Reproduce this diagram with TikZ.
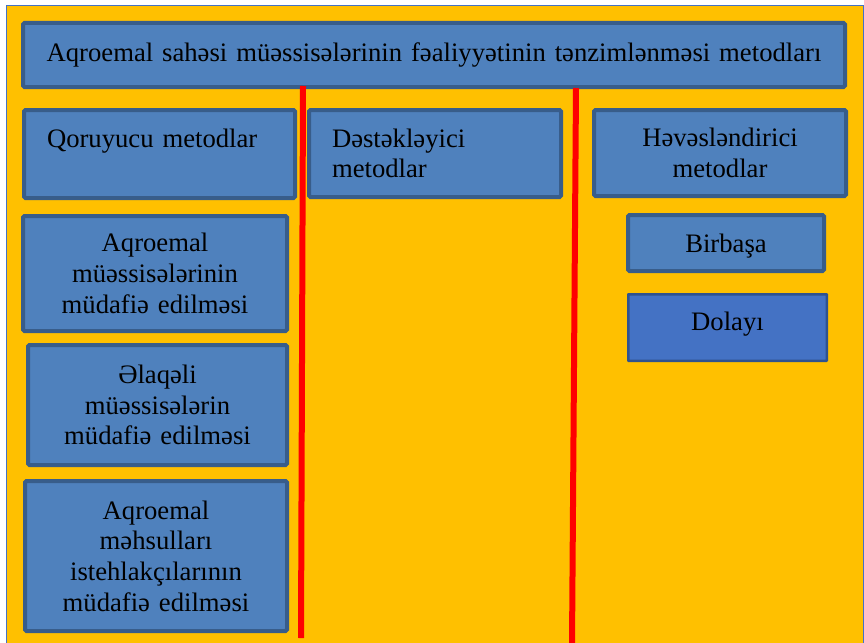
\documentclass[tikz,border=0pt]{standalone}
\usepackage{fontspec}
\setmainfont{Liberation Serif}
\definecolor{bg}{HTML}{FFC000}
\definecolor{boxfill}{HTML}{4F81BD}
\definecolor{boxline}{HTML}{385D8A}
\definecolor{dolfill}{HTML}{4472C4}
\definecolor{dolline}{HTML}{2F528F}
\definecolor{frameblue}{HTML}{4472C4}
\definecolor{sepred}{HTML}{FF0000}
\begin{document}
\begin{tikzpicture}[x=1pt,y=-1pt,
  bluebox/.style={draw=boxline, fill=boxfill, line width=4pt, rounded corners=1.5pt,
    inner sep=0pt, outer sep=0pt, text=black,
    font=\fontsize{26.67}{30.7}\selectfont},
  dolbox/.style={bluebox, draw=dolline, fill=dolfill, line width=2.5pt, rounded corners=0.5pt},
  sepline/.style={draw=sepred, line width=6pt}
  ]
\useasboundingbox (0,0) rectangle (864,642);
\fill[white] (0,0) rectangle (864,642);
\begin{scope}
  \clip (0,0) rectangle (864,642);
  \draw[draw=frameblue, fill=bg, line width=1.5pt] (6.5,5.5) rectangle (863.5,660);
\end{scope}

\node[bluebox, minimum width=822pt, minimum height=64pt, text width=800pt, align=center,
  text height=18pt, text depth=6pt]
  (title) at (434,55) {Aqroemal sahəsi müəssisələrinin fəaliyyətinin tənzimlənməsi metodları};

\node[bluebox, minimum width=271pt, minimum height=88pt, text width=225pt, align=left]
  (qor) at (159.5,154) {Qoruyucu metodlar\\\mbox{}};
\node[bluebox, minimum width=252pt, minimum height=87pt, text width=206pt, align=left]
  (des) at (435,153.5) {Dəstəkləyici\\metodlar};
\node[bluebox, minimum width=252pt, minimum height=86pt, text width=230pt, align=center]
  (hev) at (720,153) {Həvəsləndirici\\metodlar};

\node[bluebox, minimum width=196pt, minimum height=56pt, text width=180pt, align=center,
  text height=18pt, text depth=0pt]
  (bir) at (726,243) {Birbaşa};
\node[dolbox, minimum width=198.5pt, minimum height=66.5pt, text width=180pt, align=center,
  text height=18pt, text depth=13pt]
  (dol) at (727.5,327.5) {Dolayı};

\node[bluebox, minimum width=264pt, minimum height=115pt, text width=240pt, align=center]
  (l1) at (155,273.5) {Aqroemal\\müəssisələrinin\\müdafiə edilməsi};
\node[bluebox, minimum width=259pt, minimum height=120pt, text width=240pt, align=center]
  (l2) at (157.5,405) {Əlaqəli\\müəssisələrin\\müdafiə edilməsi};
\node[bluebox, minimum width=262pt, minimum height=150pt, text width=240pt, align=center]
  (l3) at (156,556) {Aqroemal\\məhsulları\\istehlakçılarının\\müdafiə edilməsi};

\coordinate (s1top) at (303,86);
\coordinate (s1bot) at (301,638);
\coordinate (s2top) at (576,88);
\coordinate (s2bot) at (572,645);
\draw[sepline] (s1top) -- (s1bot);
\draw[sepline] (s2top) -- (s2bot);
\end{tikzpicture}
\end{document}
